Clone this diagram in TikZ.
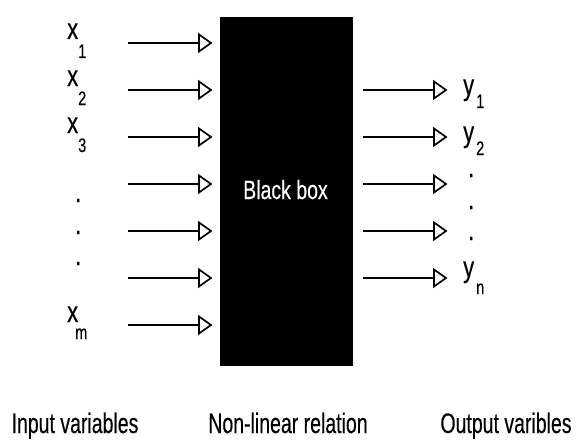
\documentclass[tikz,border=0pt]{standalone}
\usepackage{fontspec}
\setmainfont[FakeBold=0.4]{Liberation Sans}
\newcommand\tallx[1]{\scalebox{1}[1.35]{#1}}
\newcommand\tallc[1]{\scalebox{1}[1.45]{#1}}
\begin{document}
\begin{tikzpicture}[x=1pt,y=-1pt,
  shaft/.style={line width=2pt},
  headtri/.style={line width=1.7pt, line join=miter},
  big/.style={font=\fontsize{19.5}{21}\selectfont, inner sep=0pt, anchor=base},
  lbl/.style={font=\fontsize{22}{23}\selectfont, inner sep=0pt, anchor=base west},
  sub/.style={font=\fontsize{14.5}{15}\selectfont, inner sep=0pt, anchor=base west}]
\useasboundingbox (0,0) rectangle (578,444);

% black box
\node[fill=black, minimum width=133pt, minimum height=349pt, inner sep=0pt, anchor=north west] (box) at (220,17) {};
\node[big, text=white] (bbt) at (285.5,199) {\tallx{Black box}};

% input arrows
\foreach \i/\y in {1/43,2/90,3/137,4/184,5/231,6/278,7/325}{
  \coordinate (in\i) at (128,\y);
  \coordinate (inh\i) at (199,\y);
  \draw[shaft] (in\i) -- (inh\i);
  \draw[headtri] (199,\y-8.5) -- (211,\y) -- (199,\y+8.5) -- cycle;
}

% output arrows
\foreach \i/\y in {1/90,2/137,3/184,4/231,5/278}{
  \coordinate (outs\i) at (363,\y);
  \coordinate (outh\i) at (434,\y);
  \draw[shaft] (outs\i) -- (outh\i);
  \draw[headtri] (434,\y-8.5) -- (446,\y) -- (434,\y+8.5) -- cycle;
}

% input labels
\node[lbl] (x1) at (67,39) {\tallx{x}};
\node[sub] (x1s) at (78,58) {\tallx{1}};
\node[lbl] (x2) at (67,86) {\tallx{x}};
\node[sub] (x2s) at (78,105) {\tallx{2}};
\node[lbl] (x3) at (67,133) {\tallx{x}};
\node[sub] (x3s) at (78,152) {\tallx{3}};
\node[lbl] (d1) at (75,202) {\tallx{.}};
\node[lbl] (d2) at (75,234) {\tallx{.}};
\node[lbl] (d3) at (75,265) {\tallx{.}};
\node[lbl] (xm) at (67,322) {\tallx{x}};
\node[sub] (xms) at (75,339) {\tallx{m}};

% output labels
\node[lbl] (y1) at (463,95) {\tallx{y}};
\node[sub] (y1s) at (476,108) {\tallx{1}};
\node[lbl] (y2) at (463,142) {\tallx{y}};
\node[sub] (y2s) at (476,155) {\tallx{2}};
\node[lbl] (e1) at (468,177) {\tallx{.}};
\node[lbl] (e2) at (468,209) {\tallx{.}};
\node[lbl] (e3) at (468,240) {\tallx{.}};
\node[lbl] (yn) at (463,277) {\tallx{y}};
\node[sub] (yns) at (476,294) {\tallx{n}};

% bottom captions
\node[big] (cin) at (75,433) {\tallc{Input variables}};
\node[big] (cnl) at (288,433) {\tallc{Non-linear relation}};
\node[big] (cout) at (506,433) {\tallc{Output varibles}};
\end{tikzpicture}
\end{document}
